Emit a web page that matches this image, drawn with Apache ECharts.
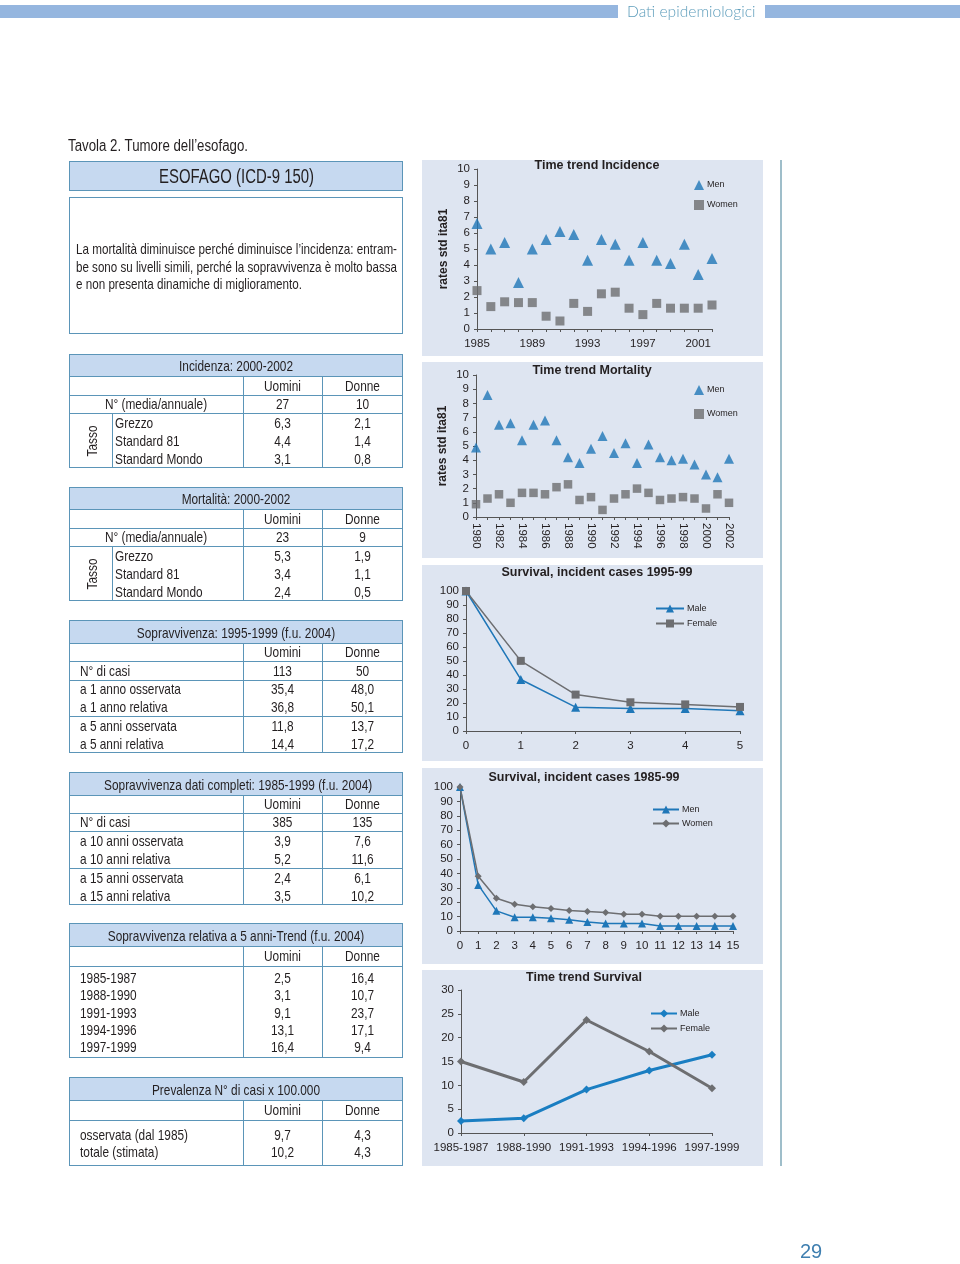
<!DOCTYPE html>
<html><head><meta charset="utf-8">
<script src="https://cdn.jsdelivr.net/npm/echarts@6/dist/echarts.min.js"></script>
<style>
html,body{margin:0;padding:0;background:#fff;}
#page{position:relative;width:960px;height:1264px;overflow:hidden;font-family:"Liberation Sans",Arial,sans-serif;color:#231f20;}
#chart{position:absolute;left:0;top:0;width:960px;height:1264px;}
.abs{position:absolute;white-space:nowrap;}
</style></head><body><div id="page"><div id="chart"></div></div>
<script>
// ---------------- DATA ----------------
const incYears = ['1985','1986','1987','1988','1989','1990','1991','1992','1993','1994','1995','1996','1997','1998','1999','2000','2001','2002'];
const incMen   = [6.6,5.0,5.4,2.9,5.0,5.6,6.1,5.9,4.3,5.6,5.3,4.3,5.4,4.3,4.1,5.3,3.4,4.4];
const incWomen = [2.4,1.4,1.7,1.65,1.65,0.8,0.5,1.6,1.1,2.2,2.3,1.3,0.9,1.6,1.3,1.3,1.3,1.5];

const morYears = ['1980','1981','1982','1983','1984','1985','1986','1987','1988','1989','1990','1991','1992','1993','1994','1995','1996','1997','1998','1999','2000','2001','2002'];
const morMen   = [4.9,8.6,6.5,6.6,5.4,6.5,6.8,5.4,4.2,3.8,4.8,5.7,4.5,5.2,3.8,5.1,4.2,4.0,4.1,3.7,3.0,2.8,4.1];
const morWomen = [0.9,1.3,1.6,1.0,1.7,1.7,1.6,2.1,2.3,1.2,1.4,0.5,1.3,1.6,2.0,1.7,1.2,1.3,1.4,1.3,0.6,1.6,1.0];

const surv5Years  = [0,1,2,3,4,5];
const surv5Male   = [100,36.8,17.0,16.0,16.0,14.4];
const surv5Female = [100,50.1,26.0,20.5,19.0,17.2];

const surv15Years = [0,1,2,3,4,5,6,7,8,9,10,11,12,13,14,15];
const surv15Men   = [100,32,14,9.5,9.5,8.8,7.8,6.2,5.2,5.2,5.2,3.5,3.5,3.5,3.5,3.5];
const surv15Women = [100,38,22.8,18.6,16.8,15.6,14.2,13.6,12.8,11.6,11.6,10.2,10.2,10.2,10.2,10.2];

const trendPeriods = ['1985-1987','1988-1990','1991-1993','1994-1996','1997-1999'];
const trendMale    = [2.5,3.1,9.1,13.1,16.4];
const trendFemale  = [15.0,10.7,23.7,17.1,9.4];

// table data
const incN     = [['N° (media/annuale)','27','10']];
const incTasso = [['Grezzo','6,3','2,1'],['Standard 81','4,4','1,4'],['Standard Mondo','3,1','0,8']];
const morN     = [['N° (media/annuale)','23','9']];
const morTasso = [['Grezzo','5,3','1,9'],['Standard 81','3,4','1,1'],['Standard Mondo','2,4','0,5']];
const sop5N    = [['N° di casi','113','50']];
const sop5A1   = [['a 1 anno osservata','35,4','48,0'],['a 1 anno relativa','36,8','50,1']];
const sop5A5   = [['a 5 anni osservata','11,8','13,7'],['a 5 anni relativa','14,4','17,2']];
const sopCN    = [['N° di casi','385','135']];
const sopC10   = [['a 10 anni osservata','3,9','7,6'],['a 10 anni relativa','5,2','11,6']];
const sopC15   = [['a 15 anni osservata','2,4','6,1'],['a 15 anni relativa','3,5','10,2']];
const trendRows= [['1985-1987','2,5','16,4'],['1988-1990','3,1','10,7'],['1991-1993','9,1','23,7'],['1994-1996','13,1','17,1'],['1997-1999','16,4','9,4']];
const prevRows = [['osservata (dal 1985)','9,7','4,3'],['totale (stimata)','10,2','4,3']];
const colHead  = ['Uomini','Donne'];

// ---------------- HTML PAGE PARTS ----------------
const page = document.getElementById('page');
const SX = 0.79, FS = 15;
function div(css, text){ const d=document.createElement('div'); d.className='abs'; d.style.cssText=css; if(text!==undefined) d.textContent=text; page.appendChild(d); return d; }
function ctext(left, top, width, lh, size, text){
  return div('left:'+left+'px;top:'+top+'px;width:'+width+'px;text-align:center;font-size:'+size+'px;line-height:'+lh+'px;transform:scaleX('+SX+');transform-origin:50% 50%;', text);
}
function ltext(left, top, lh, size, text){
  return div('left:'+left+'px;top:'+top+'px;font-size:'+size+'px;line-height:'+lh+'px;transform:scaleX('+SX+');transform-origin:0 50%;', text);
}
function fitText(left, top, targetW, lh, size, text){
  const d = div('left:'+left+'px;top:'+top+'px;font-size:'+size+'px;line-height:'+lh+'px;', text);
  const w = d.getBoundingClientRect().width;
  d.style.transformOrigin = '0 50%';
  d.style.transform = 'scaleX('+(targetW / w)+')';
  return d;
}
const BORDER = '#5b95b8', HEADFILL = '#c6d9f0';

// header bar
div('left:0;top:5px;width:618px;height:13px;background:#95b6df;');
fitText(627,0,131,22,16.5,'Dati epidemiologici').style.cssText += ';font-family:Lato,"Open Sans",sans-serif;font-weight:300;color:#5d9dbb;';
div('left:765px;top:5px;width:195px;height:13px;background:#95b6df;');

fitText(68,137,180,18,16,'Tavola 2. Tumore dell\u2019esofago.');
div('left:69px;top:161px;width:332px;height:28px;background:'+HEADFILL+';border:1px solid '+BORDER+';');
fitText(159,161,155,30,20,'ESOFAGO (ICD-9 150)');
div('left:69px;top:197px;width:332px;height:135px;border:1px solid '+BORDER+';');
const descLines = ['La mortalità diminuisce perché diminuisce l\u2019incidenza: entram-','be sono su livelli simili, perché la sopravvivenza è molto bassa','e non presenta dinamiche di miglioramento.'];
const descW = [321,321,226];
descLines.forEach((t,i)=>fitText(76,241+i*17.5,descW[i],17,14.2,t));

function table(top, headH, subH, title, groups){
  const L=69, R=403, W=R-L, c1=243, c2=322;
  let total = headH + subH + groups.reduce((s,g)=>s+g.h,0);
  div('left:'+L+'px;top:'+top+'px;width:'+(W-2)+'px;height:'+(total-2)+'px;border:1px solid '+BORDER+';');
  div('left:'+(L+1)+'px;top:'+(top+1)+'px;width:'+(W-2)+'px;height:'+(headH-1)+'px;background:'+HEADFILL+';');
  ctext(L, top+1, W, headH, FS, title);
  let y = top+headH;
  div('left:'+L+'px;top:'+y+'px;width:'+W+'px;height:0;border-top:1px solid '+BORDER+';');
  ctext(c1, y, c2-c1, subH, FS, colHead[0]);
  ctext(c2, y, R-c2, subH, FS, colHead[1]);
  div('left:'+c1+'px;top:'+y+'px;width:0;height:'+(total-headH-1)+'px;border-left:1px solid '+BORDER+';');
  div('left:'+c2+'px;top:'+y+'px;width:0;height:'+(total-headH-1)+'px;border-left:1px solid '+BORDER+';');
  y += subH;
  groups.forEach(g=>{
    div('left:'+L+'px;top:'+y+'px;width:'+W+'px;height:0;border-top:1px solid '+BORDER+';');
    if(g.tasso){
      div('left:112px;top:'+y+'px;width:0;height:'+g.h+'px;border-left:1px solid '+BORDER+';');
      div('left:'+(92-20)+'px;top:'+(y+g.h/2-9)+'px;width:40px;text-align:center;font-size:'+FS+'px;line-height:18px;transform:rotate(-90deg) scaleX('+SX+');','Tasso');
    }
    g.rows.forEach((r,i)=>{
      const ry = y + g.pad + i*g.pitch;
      const lh = g.pitch;
      if(g.center) ctext(L, ry, c1-L, lh, FS, r[0]);
      else ltext(g.tasso?115:80, ry, lh, FS, r[0]);
      ctext(c1, ry, c2-c1, lh, FS, r[1]);
      ctext(c2, ry, R-c2, lh, FS, r[2]);
    });
    y += g.h;
  });
}
table(354,22,19,'Incidenza: 2000-2002',[{h:18,pad:0,pitch:18,center:true,rows:incN},{h:55,pad:1,pitch:18,tasso:true,rows:incTasso}]);
table(487,22,19,'Mortalità: 2000-2002',[{h:18,pad:0,pitch:18,center:true,rows:morN},{h:55,pad:1,pitch:18,tasso:true,rows:morTasso}]);
table(620,23,18,'Sopravvivenza: 1995-1999 (f.u. 2004)',[{h:19,pad:0,pitch:19,rows:sop5N},{h:36,pad:0,pitch:18,rows:sop5A1},{h:37,pad:1,pitch:18,rows:sop5A5}]);
table(772,23,18,'Sopravvivenza dati completi: 1985-1999 (f.u. 2004)',[{h:18,pad:0,pitch:18,rows:sopCN},{h:37,pad:1,pitch:18,rows:sopC10},{h:37,pad:1,pitch:17.5,rows:sopC15}]);
table(923,23,20,'Sopravvivenza relativa a 5 anni-Trend (f.u. 2004)',[{h:92,pad:3,pitch:17.3,rows:trendRows}]);
table(1077,23,20,'Prevalenza N° di casi x 100.000',[{h:46,pad:6,pitch:17,rows:prevRows}]);

div('left:800px;top:1239px;font:300 20px "Liberation Sans",Arial,sans-serif;color:#3f7fb0;line-height:24px;','29');

// ---------------- ECHARTS ----------------
const chart = echarts.init(document.getElementById('chart'));
const AX='#555', TXT='#231f20', FONT='"Liberation Sans", Arial, sans-serif';
const BLUE='#1f77b8', GRAY='#6d6e71', PANEL='#dee5f1';
const lblStyle = {color:TXT, fontSize:11.5, fontFamily:FONT};
function yAx(gi,min,max,interval,name){
  const a = {type:'value',gridIndex:gi,min,max,interval,
    axisLine:{show:true,lineStyle:{color:AX}}, axisTick:{show:true,length:3,lineStyle:{color:AX}},
    splitLine:{show:false}, axisLabel:Object.assign({margin:7},lblStyle)};
  if(name){ a.name=name; a.nameLocation='middle'; a.nameGap=27; a.nameRotate=90;
    a.nameTextStyle={color:TXT,fontSize:12,fontWeight:'bold',fontFamily:FONT}; }
  return a;
}
function catAx(gi,data,labelInterval,rotate,margin){
  return {type:'category',gridIndex:gi,data,boundaryGap:false,
    axisLine:{show:true,lineStyle:{color:AX}}, axisTick:{show:true,length:3,interval:0,lineStyle:{color:AX}},
    axisLabel:Object.assign({interval:labelInterval,rotate:rotate||0,margin:margin},lblStyle), splitLine:{show:false}};
}
function valXAx(gi,min,max){
  return {type:'value',gridIndex:gi,min,max,interval:1,
    axisLine:{show:true,lineStyle:{color:AX}}, axisTick:{show:true,length:3,lineStyle:{color:AX}},
    axisLabel:Object.assign({margin:9},lblStyle), splitLine:{show:false}};
}
const fmt = n => n.split('#')[0];
function leg(left,top,names,gap,iw,ih){
  return {left,top,orient:'vertical',itemGap:gap,itemWidth:iw,itemHeight:ih,data:names,formatter:fmt,
    selectedMode:false,padding:0,textStyle:{color:TXT,fontSize:9,fontFamily:FONT,padding:[0,0,0,-2]}};
}
function title(x,y,t){ return {type:'text',x,y,style:{text:t,font:'bold 12.5px '+FONT,fill:TXT,textAlign:'center',textVerticalAlign:'middle'}}; }
function panel(y,h){ return {type:'rect',shape:{x:422,y,width:341,height:h},style:{fill:PANEL},z:-10}; }

const option = {
  animation:false,
  graphic:{elements:[
    panel(160,196),panel(362,196),panel(565,196),panel(768,196),panel(970,196),
    {type:'line',shape:{x1:781,y1:160,x2:781,y2:1166},style:{stroke:'#7fa9b9',lineWidth:1.5},z:-10},
    title(597,166,'Time trend Incidence'),
    title(592,371,'Time trend Mortality'),
    title(597,573,'Survival, incident cases 1995-99'),
    title(584,778,'Survival, incident cases 1985-99'),
    title(584,978,'Time trend Survival')
  ]},
  grid:[
    {left:477,top:169,width:235,height:160},
    {left:476,top:375,width:253,height:142},
    {left:466,top:591,width:274,height:140},
    {left:460,top:787,width:273,height:144},
    {left:461,top:990,width:251,height:143}
  ],
  xAxis:[
    catAx(0,incYears,3,0,9),
    catAx(1,morYears,1,-90,6),
    valXAx(2,0,5),
    valXAx(3,0,15),
    catAx(4,trendPeriods,0,0,9)
  ],
  yAxis:[
    yAx(0,0,10,1,'rates std ita81'),
    yAx(1,0,10,1,'rates std ita81'),
    yAx(2,0,100,10),
    yAx(3,0,100,10),
    yAx(4,0,30,5)
  ],
  legend:[
    leg(694,180,['Men#1','Women#1'],10,10,10),
    leg(694,385,['Men#2','Women#2'],14,10,10),
    leg(655,604,['Male#3','Female#3'],6,28,10),
    leg(652,805,['Men#4','Women#4'],5,26,10),
    leg(650,1009,['Male#5','Female#5'],6,26,10)
  ],
  series:[
    {name:'Men#1',type:'scatter',xAxisIndex:0,yAxisIndex:0,data:incMen,symbol:'triangle',symbolSize:11,itemStyle:{color:BLUE}},
    {name:'Women#1',type:'scatter',xAxisIndex:0,yAxisIndex:0,data:incWomen,symbol:'rect',symbolSize:9,itemStyle:{color:GRAY}},
    {name:'Men#2',type:'scatter',xAxisIndex:1,yAxisIndex:1,data:morMen,symbol:'triangle',symbolSize:10,itemStyle:{color:BLUE}},
    {name:'Women#2',type:'scatter',xAxisIndex:1,yAxisIndex:1,data:morWomen,symbol:'rect',symbolSize:8.5,itemStyle:{color:GRAY}},
    {name:'Male#3',type:'line',xAxisIndex:2,yAxisIndex:2,data:surv5Years.map((x,i)=>[x,surv5Male[i]]),symbol:'triangle',symbolSize:9,lineStyle:{color:BLUE,width:1.5},itemStyle:{color:BLUE}},
    {name:'Female#3',type:'line',xAxisIndex:2,yAxisIndex:2,data:surv5Years.map((x,i)=>[x,surv5Female[i]]),symbol:'rect',symbolSize:8,lineStyle:{color:GRAY,width:1.5},itemStyle:{color:GRAY}},
    {name:'Men#4',type:'line',xAxisIndex:3,yAxisIndex:3,data:surv15Years.map((x,i)=>[x,surv15Men[i]]),symbol:'triangle',symbolSize:8,lineStyle:{color:BLUE,width:1.5},itemStyle:{color:BLUE}},
    {name:'Women#4',type:'line',xAxisIndex:3,yAxisIndex:3,data:surv15Years.map((x,i)=>[x,surv15Women[i]]),symbol:'diamond',symbolSize:7,lineStyle:{color:GRAY,width:1.5},itemStyle:{color:GRAY}},
    {name:'Male#5',type:'line',xAxisIndex:4,yAxisIndex:4,data:trendMale,symbol:'diamond',symbolSize:8,lineStyle:{color:'#1a7ec2',width:3},itemStyle:{color:'#1a7ec2'}},
    {name:'Female#5',type:'line',xAxisIndex:4,yAxisIndex:4,data:trendFemale,symbol:'diamond',symbolSize:8,lineStyle:{color:GRAY,width:3},itemStyle:{color:GRAY}}
  ]
};
chart.setOption(option);
</script></body></html>
